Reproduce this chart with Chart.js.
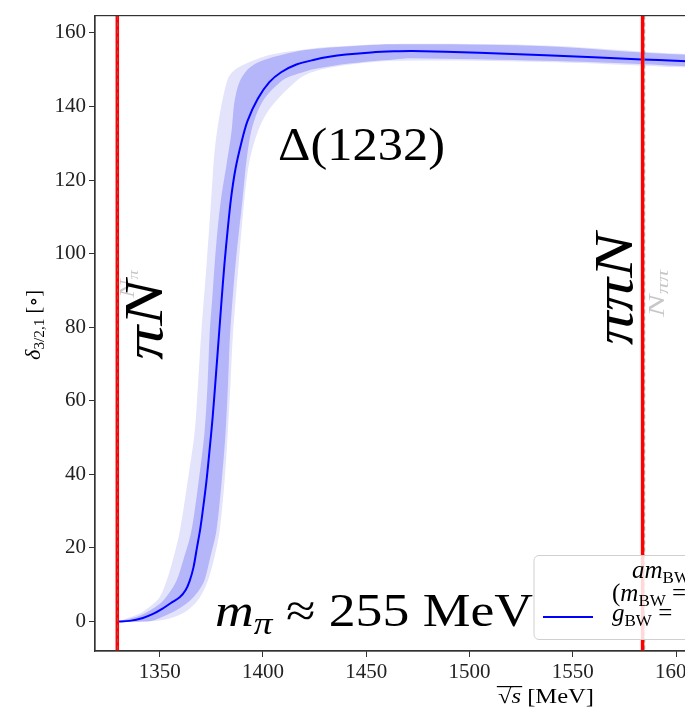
<!DOCTYPE html>
<html>
<head>
<meta charset="utf-8">
<script src="https://cdn.jsdelivr.net/npm/chart.js@4.4.1/dist/chart.umd.min.js"></script>
<style>
  html, body { margin: 0; padding: 0; overflow: hidden; background: #fff; }
  canvas { display: block; }
</style>
</head>
<body>
<canvas id="deltaChart" width="1010" height="713"></canvas>
<script>
// sqrt(s) in MeV, phase shift in degrees
const centralS = [1329.5, 1335.5, 1341.9, 1346.8, 1351.0, 1355.3, 1359.7, 1362.6, 1364.5, 1366.4, 1368.0, 1369.6, 1370.8, 1372.6, 1374.2, 1375.7, 1377.3, 1378.6, 1380.0, 1381.4, 1382.9, 1384.6, 1386.7, 1389.5, 1392.5, 1397.5, 1403.1, 1408.8, 1416.2, 1424.9, 1432.1, 1440.2, 1452.4, 1463.5, 1472.4, 1504.6, 1536.8, 1583.5, 1599.6, 1650, 1700, 1754];
const centralDelta = [0, 0.19, 0.99, 2.07, 3.36, 4.97, 6.6, 8.6, 11.0, 14.8, 19.9, 25.0, 29.8, 37.9, 46.8, 55.8, 67.4, 77.0, 87.5, 97.4, 106.3, 115.2, 123.0, 130.0, 136.0, 142.1, 146.6, 149.3, 151.4, 152.7, 153.5, 154.1, 154.7, 155.0, 155.1, 154.6, 153.9, 152.8, 152.4, 151.2, 150.0, 148.8];

const darkUpperS = [1329.5, 1340.3, 1350.0, 1353.9, 1358.1, 1361.6, 1365.3, 1368.8, 1371.7, 1373.2, 1374.2, 1375.6, 1376.6, 1378.0, 1379.8, 1382.4, 1384.8, 1386.2, 1388.6, 1392.7, 1397.3, 1403.1, 1416.8, 1432.9, 1463.5, 1536.8, 1585.1, 1599.6, 1650, 1700, 1754];
const darkUpperDelta = [0, 1.6, 4.8, 7.2, 11.0, 17.0, 24.4, 37.8, 51.3, 64.7, 78.1, 88.9, 96.9, 106.3, 115.2, 124.3, 133.2, 141.2, 146.6, 150.1, 151.9, 153.1, 155.0, 156.0, 156.9, 156.4, 154.6, 154.2, 153.1, 152.0, 150.8];

const darkLowerS = [1329.5, 1345.2, 1350.0, 1357.2, 1364.5, 1368.8, 1371.7, 1374.6, 1377.4, 1380.0, 1381.9, 1383.1, 1384.1, 1386.7, 1390.2, 1392.0, 1394.3, 1397.3, 1400.7, 1405.6, 1410.4, 1417.6, 1424.9, 1441.8, 1463.5, 1472.4, 1536.8, 1585.1, 1599.6, 1650, 1700, 1754];
const darkLowerDelta = [0, 0.1, 1.0, 2.8, 5.6, 8.3, 11.2, 17.7, 24.4, 37.9, 51.3, 64.7, 78.1, 96.9, 115.2, 125.1, 133.2, 138.5, 142.1, 145.2, 147.5, 149.0, 150.2, 151.7, 152.8, 153.1, 152.4, 151.5, 151.1, 150.0, 148.9, 147.7];

const lightUpperS = [1329.5, 1340.3, 1345.2, 1350.0, 1353.2, 1356.3, 1359.7, 1363.5, 1366.9, 1368.6, 1370.1, 1372.7, 1375.0, 1376.6, 1379.0, 1383.0, 1386.7, 1392.7, 1400.7, 1408.8, 1432.9, 1463.5, 1536.8, 1585.1, 1599.6, 1650, 1700, 1754];
const lightUpperDelta = [0, 2.1, 4.0, 6.6, 10.8, 16.5, 24.4, 37.9, 51.3, 64.7, 78.1, 96.9, 115.2, 127.8, 137.6, 147.5, 150.1, 151.9, 153.6, 154.6, 156.2, 157.0, 156.6, 154.9, 154.4, 153.3, 152.2, 151.0];

const lightLowerS = [1329.5, 1350.0, 1358.7, 1364.5, 1369.3, 1373.3, 1376.6, 1379.0, 1381.4, 1383.0, 1384.3, 1385.5, 1388.2, 1391.1, 1393.5, 1397.5, 1402.2, 1408.8, 1420.0, 1432.9, 1463.5, 1536.8, 1585.1, 1599.6, 1650, 1700, 1754];
const lightLowerDelta = [0, 0.3, 1.6, 3.5, 6.4, 11.0, 17.7, 24.4, 37.9, 51.3, 64.7, 78.1, 96.9, 115.2, 125.1, 133.2, 138.5, 143.0, 148.4, 150.6, 152.4, 152.1, 151.1, 150.7, 149.6, 148.5, 147.3];

// thresholds: piN and pipiN
const thresholds = [1329.5, 1583.8];
const grayThresholds = [1329.6, 1584.8];

const xTicks = [1350, 1400, 1450, 1500, 1550, 1600, 1650, 1700, 1750];
const yTicks = [0, 20, 40, 60, 80, 100, 120, 140, 160];

const SERIF = '"Liberation Serif", "DejaVu Serif", serif';

function pts(xs, ys) {
  return xs.map((x, i) => ({ x: x, y: ys[i] }));
}

// text made of pieces: [text, font, dy, overlineY]
function drawRich(ctx, parts, x, y, opts = {}) {
  ctx.save();
  ctx.translate(x, y);
  if (opts.rotate) ctx.rotate(opts.rotate);
  let total = 0;
  parts.forEach(p => { ctx.font = p[1]; total += ctx.measureText(p[0]).width; });
  if (opts.width) ctx.scale(opts.width / total, 1);
  let cx = opts.align === 'center' ? -total / 2 : 0;
  ctx.fillStyle = opts.color || '#000';
  ctx.textAlign = 'left';
  ctx.textBaseline = 'alphabetic';
  parts.forEach(p => {
    ctx.font = p[1];
    const w = ctx.measureText(p[0]).width;
    ctx.fillText(p[0], cx, p[2] || 0);
    if (p[3]) ctx.fillRect(cx - 1, p[3], w + 2, 1.2);
    cx += w;
  });
  ctx.restore();
}

const annotations = {
  id: 'annotations',
  afterDatasetsDraw(chart) {
    const { ctx, chartArea: a, scales: { x } } = chart;
    ctx.save();
    ctx.beginPath();
    ctx.rect(a.left, a.top, a.width, a.height);
    ctx.clip();

    ctx.strokeStyle = '#ff0000';
    ctx.lineWidth = 3.5;
    thresholds.forEach(t => {
      const px = x.getPixelForValue(t);
      ctx.beginPath();
      ctx.moveTo(px, a.top);
      ctx.lineTo(px, a.bottom);
      ctx.stroke();
    });
    ctx.strokeStyle = 'rgba(120,120,120,0.6)';
    ctx.lineWidth = 1.2;
    ctx.setLineDash([4, 3]);
    grayThresholds.forEach(t => {
      const px = x.getPixelForValue(t);
      ctx.beginPath();
      ctx.moveTo(px, a.top);
      ctx.lineTo(px, a.bottom);
      ctx.stroke();
    });
    ctx.setLineDash([]);

    const up = -Math.PI / 2;
    // threshold labels
    drawRich(ctx, [['N', 'italic 22px ' + SERIF, 0], ['π', 'italic 15px ' + SERIF, 4]],
      134, 298, { rotate: up, width: 28, color: 'rgba(0,0,0,0.22)' });
    drawRich(ctx, [['N', 'italic 24px ' + SERIF, 0], ['ππ', 'italic 17px ' + SERIF, 4]],
      664, 317, { rotate: up, width: 47, color: 'rgba(0,0,0,0.22)' });
    drawRich(ctx, [['πN', 'italic 54px ' + SERIF, 0]], 162, 360, { rotate: up, width: 80 });
    drawRich(ctx, [['ππN', 'italic 54px ' + SERIF, 0]], 632, 345, { rotate: up, width: 112 });

    // resonance and pion mass
    drawRich(ctx, [['Δ(1232)', '46px ' + SERIF, 0]], 278, 160, { width: 167 });
    drawRich(ctx, [
      ['m', 'italic 46px ' + SERIF, 0],
      ['π', 'italic 32px ' + SERIF, 8],
      [' ≈ 255 MeV', '46px ' + SERIF, 0]
    ], 215, 626, { width: 318 });
    ctx.restore();
  },
  afterDraw(chart) {
    const { ctx, chartArea: a } = chart;
    ctx.save();
    // full frame
    ctx.strokeStyle = '#333';
    ctx.lineWidth = 1.2;
    ctx.strokeRect(a.left, a.top, a.width, a.height);

    // axis titles
    drawRich(ctx, [
      ['δ', 'italic 22px ' + SERIF, 0],
      ['3/2,1', '15px ' + SERIF, 4],
      [' [∘]', '20px ' + SERIF, 0]
    ], 40, 325, { rotate: -Math.PI / 2, align: 'center', width: 70 });
    drawRich(ctx, [
      ['√', '21px ' + SERIF, 0, -17],
      ['s', 'italic 21px ' + SERIF, 0, -17],
      [' [MeV]', '21px ' + SERIF, 0]
    ], 546, 703, { align: 'center', width: 96 });

    // legend
    ctx.beginPath();
    ctx.roundRect(534, 555.5, 450, 84, 5);
    ctx.fillStyle = 'rgba(255,255,255,0.85)';
    ctx.fill();
    ctx.strokeStyle = '#d0d0d0';
    ctx.lineWidth = 1;
    ctx.stroke();
    ctx.strokeStyle = '#0000ff';
    ctx.lineWidth = 2;
    ctx.beginPath();
    ctx.moveTo(543, 617);
    ctx.lineTo(593, 617);
    ctx.stroke();
    const it = 'italic 25px ' + SERIF, rm = '25px ' + SERIF, sb = '17px ' + SERIF;
    drawRich(ctx, [['am', it, 0], ['BW', sb, 5], [' = ', rm, 0]], 632, 578);
    drawRich(ctx, [['(', rm, 0], ['m', it, 0], ['BW', sb, 5], [' = ', rm, 0]], 612, 601);
    drawRich(ctx, [['g', it, 0], ['BW', sb, 5], [' = ', rm, 0]], 612, 621);
    ctx.restore();
  }
};

const band = { borderWidth: 0, pointRadius: 0, tension: 0.3 };

new Chart(document.getElementById('deltaChart'), {
  type: 'line',
  data: {
    datasets: [
      { ...band, data: pts(lightUpperS, lightUpperDelta), fill: false, order: 4 },
      { ...band, data: pts(lightLowerS, lightLowerDelta), fill: '-1', backgroundColor: '#e3e3fc', order: 3 },
      { ...band, data: pts(darkUpperS, darkUpperDelta), fill: false, order: 2 },
      { ...band, data: pts(darkLowerS, darkLowerDelta), fill: '-1', backgroundColor: '#b5b5f9', order: 1 },
      {
        data: pts(centralS, centralDelta),
        borderColor: '#0000ff',
        borderWidth: 2,
        pointRadius: 0,
        fill: false,
        tension: 0.3,
        order: 0
      }
    ]
  },
  options: {
    responsive: false,
    animation: false,
    devicePixelRatio: 1,
    layout: { padding: { top: 7.5, right: 13, left: 0, bottom: 0 } },
    plugins: { legend: { display: false }, tooltip: { enabled: false } },
    scales: {
      x: {
        type: 'linear',
        min: 1318.7,
        max: 1754,
        afterBuildTicks: s => { s.ticks = xTicks.map(v => ({ value: v })); },
        afterFit: s => { s.height = 62; },
        grid: { drawOnChartArea: false, tickLength: 6, tickColor: '#333' },
        border: { color: '#333', width: 1.2 },
        ticks: {
          autoSkip: false, maxRotation: 0, padding: 3, color: '#222',
          font: { family: SERIF, size: 21 },
          callback: v => String(v)
        }
      },
      y: {
        min: -8,
        max: 164.7,
        afterBuildTicks: s => { s.ticks = yTicks.map(v => ({ value: v })); },
        afterFit: s => { s.width = 95; },
        grid: { drawOnChartArea: false, tickLength: 6, tickColor: '#333' },
        border: { color: '#333', width: 1.2 },
        ticks: {
          autoSkip: false, padding: 3, color: '#222',
          font: { family: SERIF, size: 21 },
          callback: v => String(v)
        }
      }
    }
  },
  plugins: [annotations]
});
</script>
</body>
</html>
